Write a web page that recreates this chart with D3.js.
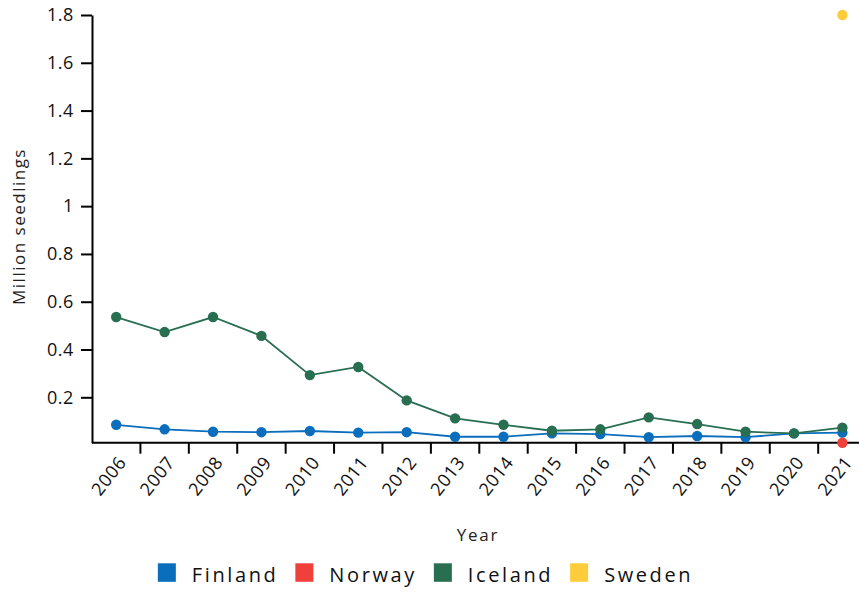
<!DOCTYPE html>
<html><head><meta charset="utf-8">
<script src="https://cdn.jsdelivr.net/npm/d3@7"></script>
<style>
body{margin:0;background:#fff;}
svg{font-family:"Open Sans",Lato,sans-serif;}
</style></head>
<body><svg id="c" width="859" height="592"></svg>
<script>
const years = [2006,2007,2008,2009,2010,2011,2012,2013,2014,2015,2016,2017,2018,2019,2020,2021];
const finland = [0.085,0.066,0.056,0.054,0.059,0.052,0.054,0.035,0.035,0.049,0.046,0.033,0.038,0.033,0.049,0.052];
const norway  = [null,null,null,null,null,null,null,null,null,null,null,null,null,null,null,0.01];
const iceland = [0.536,0.473,0.536,0.457,0.293,0.327,0.187,0.112,0.085,0.060,0.066,0.116,0.088,0.056,0.049,0.073];
const sweden  = [null,null,null,null,null,null,null,null,null,null,null,null,null,null,null,1.8];
const seriesNames = ["Finland","Norway","Iceland","Sweden"];
const colors = ["#0a6ebd","#f0403c","#286e50","#fdcc3a"];
const yTicks = [0.2,0.4,0.6,0.8,1,1.2,1.4,1.6,1.8];

const series = [
  {name:seriesNames[0], values:finland, color:colors[0]},
  {name:seriesNames[1], values:norway, color:colors[1]},
  {name:seriesNames[2], values:iceland, color:colors[2]},
  {name:seriesNames[3], values:sweden, color:colors[3]}
];
const drawOrder = [series[0], series[2], series[1], series[3]];

const svg = d3.select("#c");
const mLeft = 92, mTop = 15, mBottom = 442.7, mRight = 866.6;

const x = d3.scaleBand().domain(years).range([mLeft, mRight]).padding(0);
const bw = x.bandwidth();
const cx = d => x(d) + bw/2;

const allVals = series.flatMap(s => s.values).filter(v => v != null);
const y = d3.scaleLinear().domain(d3.extent(allVals)).range([mBottom, mTop]);

// X axis
const xAxis = svg.append("g").attr("transform", `translate(0,${mBottom})`)
  .call(d3.axisBottom(x).tickSize(0).tickSizeOuter(0).tickFormat(d => d));
xAxis.select(".domain").attr("stroke","#000").attr("stroke-width",2).attr("d", `M${mLeft},0H859`);
xAxis.selectAll(".tick").each(function(d,i){
  const g = d3.select(this);
  if (i > 0) g.append("line").attr("x1",-bw/2).attr("x2",-bw/2).attr("y1",0).attr("y2",11)
     .attr("stroke","#000").attr("stroke-width",2);
  g.select("text").attr("fill","#111").attr("font-size",18).attr("letter-spacing",0.6)
    .attr("font-family","'Open Sans',sans-serif")
    .attr("text-anchor","end").attr("dy","0.35em")
    .attr("transform","translate(6,16) rotate(-52)").attr("x",0).attr("y",0);
});

// Y axis
const yAxis = svg.append("g").attr("transform", `translate(${mLeft},0)`)
  .call(d3.axisLeft(y).tickValues(yTicks).tickSize(11).tickSizeOuter(0).tickFormat(d => String(+d.toFixed(1))));
yAxis.select(".domain").attr("stroke","#000").attr("stroke-width",2);
yAxis.selectAll(".tick line").attr("stroke","#000").attr("stroke-width",2);
yAxis.selectAll(".tick text").attr("fill","#111").attr("font-size",18).attr("letter-spacing",0.6)
  .attr("font-family","'Open Sans',sans-serif").attr("x",-18);

// titles
svg.append("text").attr("transform",`translate(25,226.5) rotate(-90)`).attr("text-anchor","middle")
  .attr("font-size",17).attr("letter-spacing",1.5).attr("fill","#222").text("Million seedlings");
svg.append("text").attr("x",478).attr("y",541).attr("text-anchor","middle")
  .attr("font-size",17).attr("letter-spacing",1.8).attr("fill","#222").text("Year");

// lines and points
const line = d3.line().defined(d => d.v != null).x(d => cx(d.year)).y(d => y(d.v));
drawOrder.forEach(s => {
  const pts = years.map((yr,i) => ({year:yr, v:s.values[i]}));
  svg.append("path").datum(pts).attr("fill","none").attr("stroke",s.color).attr("stroke-width",1.8).attr("d",line);
  svg.append("g").selectAll("circle").data(pts.filter(p => p.v != null)).join("circle")
    .attr("cx",p => cx(p.year)).attr("cy",p => y(p.v)).attr("r",5.2).attr("fill",s.color);
});

// legend
const lg = svg.append("g");
let lx = 0;
series.forEach(s => {
  const g = lg.append("g").attr("transform",`translate(${lx},0)`);
  g.append("rect").attr("x",0).attr("y",-19).attr("width",18).attr("height",18.5).attr("fill",s.color);
  const t = g.append("text").attr("x",34).attr("y",0).attr("font-size",20).attr("letter-spacing",2.6)
    .attr("fill","#111").text(s.name);
  lx += 34 + t.node().getComputedTextLength() + 17;
});
const totalW = lx - 17;
lg.attr("transform",`translate(${425.5 - totalW/2},582.3)`);
</script></body></html>
